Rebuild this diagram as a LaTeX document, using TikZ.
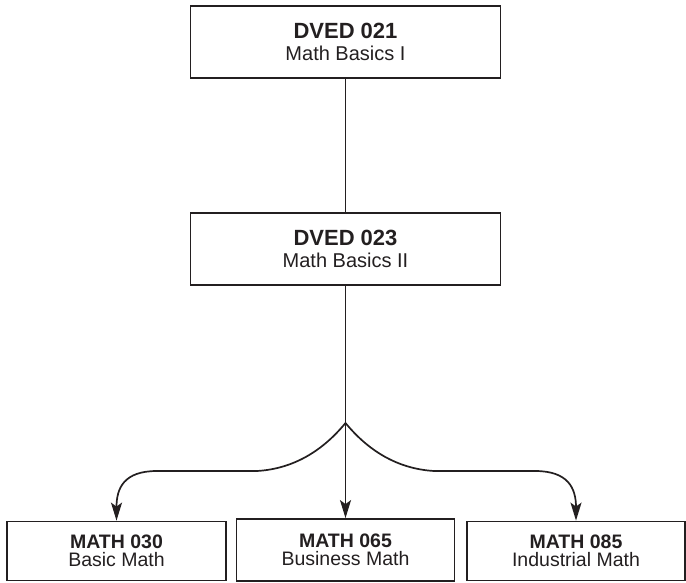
\documentclass[tikz,border=0pt]{standalone}
\usepackage{fontspec}
\setmainfont{Liberation Sans}
\usepackage{tikz}
\usetikzlibrary{arrows.meta}

\definecolor{inkgray}{HTML}{231F20}

\tikzset{
	course/.style={draw=inkgray, line width=1.8pt, inner sep=0pt, align=center, text=inkgray, font=\fontsize{20}{21.7}\selectfont},
	lowercourse/.style={course, font=\fontsize{19.5}{18.5}\selectfont},
	link/.style={color=inkgray, line width=1.7pt},
	pointer/.style={link, -{Stealth[length=18pt, width=11pt, inset=4pt]}}
}

\begin{document}
\begin{tikzpicture}[x=1pt, y=1pt]
		\useasboundingbox (0,0) rectangle (686,582);

		\node[course, minimum width=310, minimum height=72] (dved21) at (345.5,540) {
			{\bfseries\fontsize{22}{21.7}\selectfont DVED 021}
			\\
			Math Basics I
		};

		\node[course, minimum width=310, minimum height=72] (dved23) at (345.5,333) {
			{\bfseries\fontsize{22}{21.7}\selectfont DVED 023}
			\\
			Math Basics II
		};

		\node[lowercourse, minimum width=219, minimum height=59] (math30) at (116.5,31) {
			\textbf{MATH 030}
			\\
			Basic Math
		};

		\node[lowercourse, minimum width=218, minimum height=62] (math65) at (345.5,32) {
			\textbf{MATH 065}
			\\
			Business Math
		};

		\node[lowercourse, minimum width=218, minimum height=59] (math85) at (576,31) {
			\textbf{MATH 085}
			\\
			Industrial Math
		};

		\coordinate (split) at (345.5,159);

		\draw[link] (dved21) -- (dved23);
		\draw[link] (dved23) -- (split);

		\draw[pointer] (split) -- (math65);
		\draw[pointer] (split) .. controls (320,128) and (290,113) .. (257,111) -- (157,111) .. controls (124,111) and (116.5,94) .. (math30.north);
		\draw[pointer] (split) .. controls (371,128) and (401,113) .. (434,111) -- (535,111) .. controls (568,111) and (576,94) .. (math85.north);

	\end{tikzpicture}
\end{document}
